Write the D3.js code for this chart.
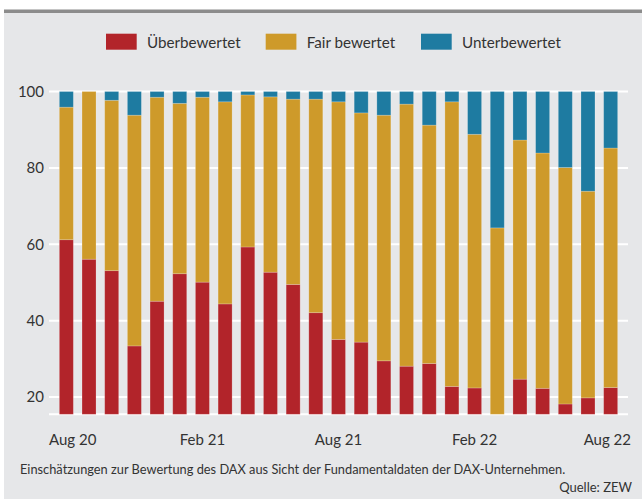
<!DOCTYPE html>
<html lang="de">
<head>
  <meta charset="utf-8"/>
  <title>DAX Bewertung</title>
  <script src="https://cdn.jsdelivr.net/npm/d3@7/dist/d3.min.js"></script>
  <style>
    html, body { margin:0; padding:0; background:#fff; }
    svg { display:block; font-family:Lato, "Open Sans", sans-serif; }
    .tick text, .lbl { fill:#333; }
  </style>
</head>
<body>
<svg id="chart" width="642" height="499"></svg>
<script>
  // Monate Aug 20 .. Aug 22
  const months = ["2020-08","2020-09","2020-10","2020-11","2020-12","2021-01","2021-02",
                  "2021-03","2021-04","2021-05","2021-06","2021-07","2021-08","2021-09",
                  "2021-10","2021-11","2021-12","2022-01","2022-02","2022-03","2022-04",
                  "2022-05","2022-06","2022-07","2022-08"];
  const ueber = [61.2,56.1,53.1,33.4,45.1,52.3,50.1,44.4,59.3,52.7,49.5,42.1,35.1,
                 34.4,29.5,28.1,28.8,22.8,22.4,0,24.7,22.3,18.2,19.8,22.5];
  const fair  = [34.7,43.9,44.6,60.4,53.4,44.6,48.4,52.9,39.8,45.9,48.5,55.9,62.2,
                 60.0,64.3,68.6,62.4,74.5,66.4,64.3,62.6,61.6,61.9,54.1,62.7];
  const unter = [4.1,0,2.3,6.2,1.5,3.1,1.5,2.7,0.9,1.4,2.0,2.0,2.7,
                 5.6,6.2,3.3,8.8,2.7,11.2,35.7,12.7,16.1,19.9,26.1,14.8];
  const xTickIdx    = [0, 6, 12, 18, 24];
  const xTickLabels = ["Aug 20","Feb 21","Aug 21","Feb 22","Aug 22"];
  const yTicks      = [20, 40, 60, 80, 100];
  const keys   = ["ueber","fair","unter"];
  const names  = ["Überbewertet","Fair bewertet","Unterbewertet"];
  const colors = ["#b2242a","#ce9a2a","#1e7ba1"];

  const svg = d3.select("#chart");
  const W = 642, H = 499;

  // Hintergrund-Panel
  svg.append("rect").attr("x",4).attr("y",11).attr("width",W-4).attr("height",H-11)
    .attr("fill","#e6e7e9");
  svg.append("rect").attr("x",4).attr("y",9.5).attr("width",W-4).attr("height",3.5)
    .attr("fill","#8c8c8c");

  const rows = months.map((m,i) => ({month:m, ueber:ueber[i], fair:fair[i], unter:unter[i]}));
  const series = d3.stack().keys(keys)(rows);

  const x = d3.scaleBand().domain(months).range([49, 628])
    .paddingInner(0.383).paddingOuter(0.456);
  const y = d3.scaleLinear().domain([15.5, 100]).range([414.3, 91.5]).clamp(true);

  // Gitterlinien
  svg.append("g").selectAll("line")
    .data([15.5, ...yTicks])
    .join("line")
      .attr("x1",49).attr("x2",628)
      .attr("y1",d=>y(d)).attr("y2",d=>y(d))
      .attr("stroke","#fff").attr("stroke-width",2);

  // gestapelte Balken
  svg.append("g").selectAll("g")
    .data(series)
    .join("g")
      .attr("fill",(d,i)=>colors[i])
    .selectAll("rect")
    .data(d=>d)
    .join("rect")
      .attr("x",d=>x(d.data.month))
      .attr("width",x.bandwidth())
      .attr("y",d=>y(d[1]))
      .attr("height",d=>Math.max(0, y(d[0]) - y(d[1])))
      .attr("stroke","rgba(255,255,255,0.25)")
      .attr("stroke-width",0.8);

  // y-Achse
  const yAxis = svg.append("g")
    .attr("transform","translate(49,0)")
    .call(d3.axisLeft(y).tickValues(yTicks).tickSize(0).tickPadding(5));
  yAxis.select(".domain").remove();
  yAxis.selectAll("text").attr("font-size",15).attr("font-family","Lato, sans-serif");

  // x-Achse
  const xg = svg.append("g").attr("class","lbl");
  xg.selectAll("text")
    .data(xTickIdx)
    .join("text")
      .attr("x",(d,i)=> i===0 ? 49 : i===xTickIdx.length-1 ? 631 : x(months[d]) + x.bandwidth()/2)
      .attr("y",444.5)
      .attr("text-anchor",(d,i)=> i===0 ? "start" : i===xTickIdx.length-1 ? "end" : "middle")
      .attr("font-size",15)
      .text((d,i)=>xTickLabels[i]);

  // Legende
  const legX = [106, 265.7, 421];
  const leg = svg.append("g");
  names.forEach((n,i)=>{
    leg.append("rect").attr("x",legX[i]).attr("y",33.7).attr("width",30.7).attr("height",16)
      .attr("fill",colors[i]);
    leg.append("text").attr("class","lbl").attr("x",legX[i]+41).attr("y",47.5)
      .attr("font-size",15.2).text(n);
  });

  // Fußnote
  svg.append("text").attr("class","lbl").attr("x",20).attr("y",474)
    .attr("font-size",12.8)
    .text("Einschätzungen zur Bewertung des DAX aus Sicht der Fundamentaldaten der DAX-Unternehmen.");
  svg.append("text").attr("class","lbl").attr("x",632).attr("y",491.5)
    .attr("text-anchor","end").attr("font-size",13)
    .text("Quelle: ZEW");
</script>
</body>
</html>
